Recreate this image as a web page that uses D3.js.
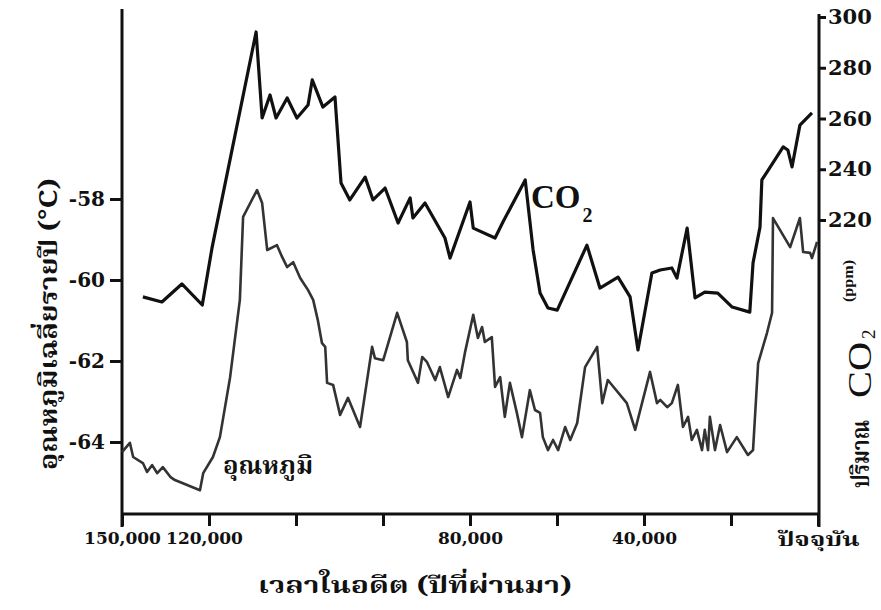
<!DOCTYPE html>
<html><head><meta charset="utf-8">
<script src="https://cdn.jsdelivr.net/npm/d3@7"></script>
<style>body{margin:0;background:#fff}svg{display:block}</style>
</head><body><svg id="c" width="881" height="610"></svg>
<script>
// ---- data (years before present) ----
const co2Years = [145500,141400,137100,132700,130600,121100,119800,118100,116800,114400,112300,109900,109000,106700,104100,102800,100900,97600,95900,93300,90500,87900,87300,84700,80400,79300,75000,74300,69600,67900,63100,61400,59900,58200,56200,49800,47000,43100,40500,38800,35800,34000,31500,30400,28200,26500,24400,21600,18500,14700,14000,12500,12100,11000,7500,6500,5600,3900,1300];
const co2Values = [189.7,187.7,194.8,186.5,209.0,294.1,260.2,269.3,260.2,268.1,260.2,265.3,275.2,264.5,268.5,234.6,227.9,236.9,227.9,232.6,218.8,228.7,220.8,226.7,212.9,205.0,227.1,216.8,212.9,219.2,235.8,208.2,191.2,185.3,184.5,210.1,193.2,197.5,189.7,168.8,199.1,200.3,201.1,197.1,216.8,189.3,191.6,191.2,185.7,183.7,203.1,217.2,235.8,238.9,248.8,247.6,240.9,257.4,262.2];
const tempYears = [150000,148300,147600,145500,144600,143500,142400,141200,139600,138600,133200,132500,130400,128900,126700,124600,123900,120900,119800,118700,116600,115500,114400,113100,111600,109900,108800,107800,106900,106200,105800,104500,103000,101300,98700,96100,95500,93700,90700,88600,88400,86200,85300,84300,82500,81500,79700,77800,77100,76100,74300,73300,72400,71800,70300,69600,68500,67500,66400,64900,63800,62100,61000,59900,59300,58200,57100,56000,54500,53400,51900,50200,47600,46500,45300,41200,39400,36200,34700,34000,32500,31500,30200,29100,28000,27200,26100,25000,24400,23700,23300,22200,21100,19600,17500,15100,14000,12900,11000,9900,9700,6000,3900,3200,1700,1300,200];
const tempValues = [-64.25,-64.02,-64.37,-64.52,-64.74,-64.57,-64.77,-64.62,-64.86,-64.94,-65.19,-64.77,-64.37,-63.88,-62.40,-60.49,-58.44,-57.78,-58.10,-59.26,-59.14,-59.43,-59.68,-59.56,-59.95,-60.25,-60.49,-60.99,-61.56,-61.65,-62.54,-62.59,-63.33,-62.91,-63.63,-61.65,-61.93,-61.98,-60.81,-61.53,-61.98,-62.54,-61.90,-62.02,-62.47,-62.15,-62.89,-62.22,-62.42,-61.80,-60.86,-61.43,-61.16,-61.53,-61.41,-62.64,-62.40,-63.38,-62.54,-63.28,-63.88,-62.72,-63.21,-63.28,-63.88,-64.20,-63.95,-64.20,-63.63,-63.95,-63.53,-62.15,-61.65,-63.04,-62.47,-63.04,-63.70,-62.27,-63.04,-62.96,-63.14,-63.04,-62.59,-63.63,-63.38,-63.95,-63.70,-64.20,-63.70,-64.20,-63.38,-64.20,-63.58,-64.25,-63.88,-64.32,-64.20,-62.05,-61.31,-60.81,-58.47,-59.19,-58.47,-59.31,-59.33,-59.46,-59.06];
const xTickValues = [150000,131250,112500,93750,75000,56250,37500,18750,0];
const xTickLabels = ["150,000","120,000","","","80,000","","40,000","","ปัจจุบัน"];
const tempTicks = [-58,-60,-62,-64];
const co2Ticks = [220,240,260,280,300];

const svg = d3.select("#c");
const x = d3.scaleLinear().domain([150000,0]).range([122,818]);
const yT = d3.scaleLinear().domain([-64,-58]).range([442,199]);
const yC = d3.scaleLinear().domain([220,300]).range([220,17]);
const bottomY = 514;
const serif = "'DejaVu Serif', 'Liberation Serif', serif";
const thai = "'Noto Serif Thai','Kinnari','Norasi','Noto Sans Thai Looped','Loma','Garuda','Noto Sans Thai','DejaVu Sans',sans-serif";
const ink = "#111";

// frame lines
const frame = svg.append("g").attr("stroke",ink).attr("stroke-width",3).attr("fill","none");
frame.append("line").attr("x1",x(150000)).attr("x2",x(150000)).attr("y1",9).attr("y2",527);
frame.append("line").attr("x1",x(0)+1).attr("x2",x(0)+1).attr("y1",14).attr("y2",527);
frame.append("line").attr("x1",x(150000)).attr("x2",x(0)+1).attr("y1",bottomY).attr("y2",bottomY);

// x axis
const xAxis = d3.axisBottom(x).tickValues(xTickValues).tickSize(12).tickPadding(6)
  .tickFormat((d,i)=>xTickLabels[i]);
const gx = svg.append("g").attr("transform",`translate(0,${bottomY})`).call(xAxis);
gx.select(".domain").remove();
gx.selectAll(".tick line").attr("stroke",ink).attr("stroke-width",3);
gx.selectAll(".tick text").attr("fill",ink).attr("font-family",serif).attr("font-weight","bold").attr("font-size",17);
gx.selectAll(".tick text").filter((d,i)=>i===1).attr("dx",-5);
gx.selectAll(".tick text").filter((d,i)=>i===8).attr("font-family",thai).attr("font-size",20)
  .attr("textLength",82).attr("lengthAdjust","spacingAndGlyphs");

// left axis
const yAxisL = d3.axisLeft(yT).tickValues(tempTicks).tickSize(12).tickPadding(5).tickFormat(d=>"-"+Math.abs(d));
const gl = svg.append("g").attr("transform",`translate(${x(150000)},0)`).call(yAxisL);
gl.select(".domain").remove();
gl.selectAll(".tick line").attr("stroke",ink).attr("stroke-width",3);
gl.selectAll(".tick text").attr("fill",ink).attr("font-family",serif).attr("font-weight","bold").attr("font-size",20);

// right axis
const yAxisR = d3.axisRight(yC).tickValues(co2Ticks).tickSize(7).tickPadding(2).tickFormat(d3.format("d"));
const gr = svg.append("g").attr("transform",`translate(${x(0)+1},0)`).call(yAxisR);
gr.select(".domain").remove();
gr.selectAll(".tick line").attr("stroke",ink).attr("stroke-width",3);
gr.selectAll(".tick text").attr("fill",ink).attr("font-family",serif).attr("font-weight","bold").attr("font-size",21);

// lines
const lineT = d3.line().x((d,i)=>x(tempYears[i])).y(d=>yT(d));
const lineC = d3.line().x((d,i)=>x(co2Years[i])).y(d=>yC(d));
svg.append("path").datum(tempValues).attr("d",lineT).attr("fill","none")
  .attr("stroke","#333").attr("stroke-width",2.6).attr("stroke-linejoin","round");
svg.append("path").datum(co2Values).attr("d",lineC).attr("fill","none")
  .attr("stroke",ink).attr("stroke-width",3.2).attr("stroke-linejoin","round");

// series labels
const co2Label = svg.append("text").attr("x",531).attr("y",208).attr("fill",ink)
  .attr("font-family","'Liberation Serif',serif").attr("font-weight","bold");
co2Label.append("tspan").attr("font-size",33).text("CO");
co2Label.append("tspan").attr("font-size",20).attr("dx",2).attr("dy",14).text("2");

svg.append("text").attr("x",223).attr("y",474).attr("fill",ink).attr("font-family",thai)
  .attr("font-weight","bold").attr("font-size",25).attr("textLength",90).attr("lengthAdjust","spacingAndGlyphs")
  .text("อุณหภูมิ");

// axis titles
svg.append("text").attr("transform","translate(57,470) rotate(-90)")
  .attr("fill",ink).attr("font-family",thai).attr("font-weight","bold").attr("font-size",25)
  .attr("textLength",292).attr("lengthAdjust","spacingAndGlyphs")
  .text("อุณหภูมิเฉลี่ยรายปี (°C)");

// right title, pieces placed along the rotated baseline
const rtitle = svg.append("g").attr("fill",ink);
rtitle.append("text").attr("transform","translate(869,488) rotate(-90)")
  .attr("font-family",thai).attr("font-weight","bold").attr("font-size",25)
  .attr("textLength",68).attr("lengthAdjust","spacingAndGlyphs").text("ปริมาณ");
rtitle.append("text").attr("transform","translate(871,398) rotate(-90)")
  .attr("font-family","'Liberation Serif',serif").attr("font-size",33)
  .attr("textLength",56).attr("lengthAdjust","spacingAndGlyphs").text("CO");
rtitle.append("text").attr("transform","translate(875,339) rotate(-90)")
  .attr("font-family","'Liberation Serif',serif").attr("font-size",19).text("2");
rtitle.append("text").attr("transform","translate(853,302) rotate(-90)")
  .attr("font-family","'Liberation Serif',serif").attr("font-weight","bold").attr("font-size",14)
  .attr("textLength",42).attr("lengthAdjust","spacingAndGlyphs").text("(ppm)");

svg.append("text").attr("x",258).attr("y",593).attr("fill",ink)
  .attr("font-family",thai).attr("font-weight","bold").attr("font-size",23)
  .attr("textLength",314).attr("lengthAdjust","spacingAndGlyphs").text("เวลาในอดีต (ปีที่ผ่านมา)");
</script></body></html>
